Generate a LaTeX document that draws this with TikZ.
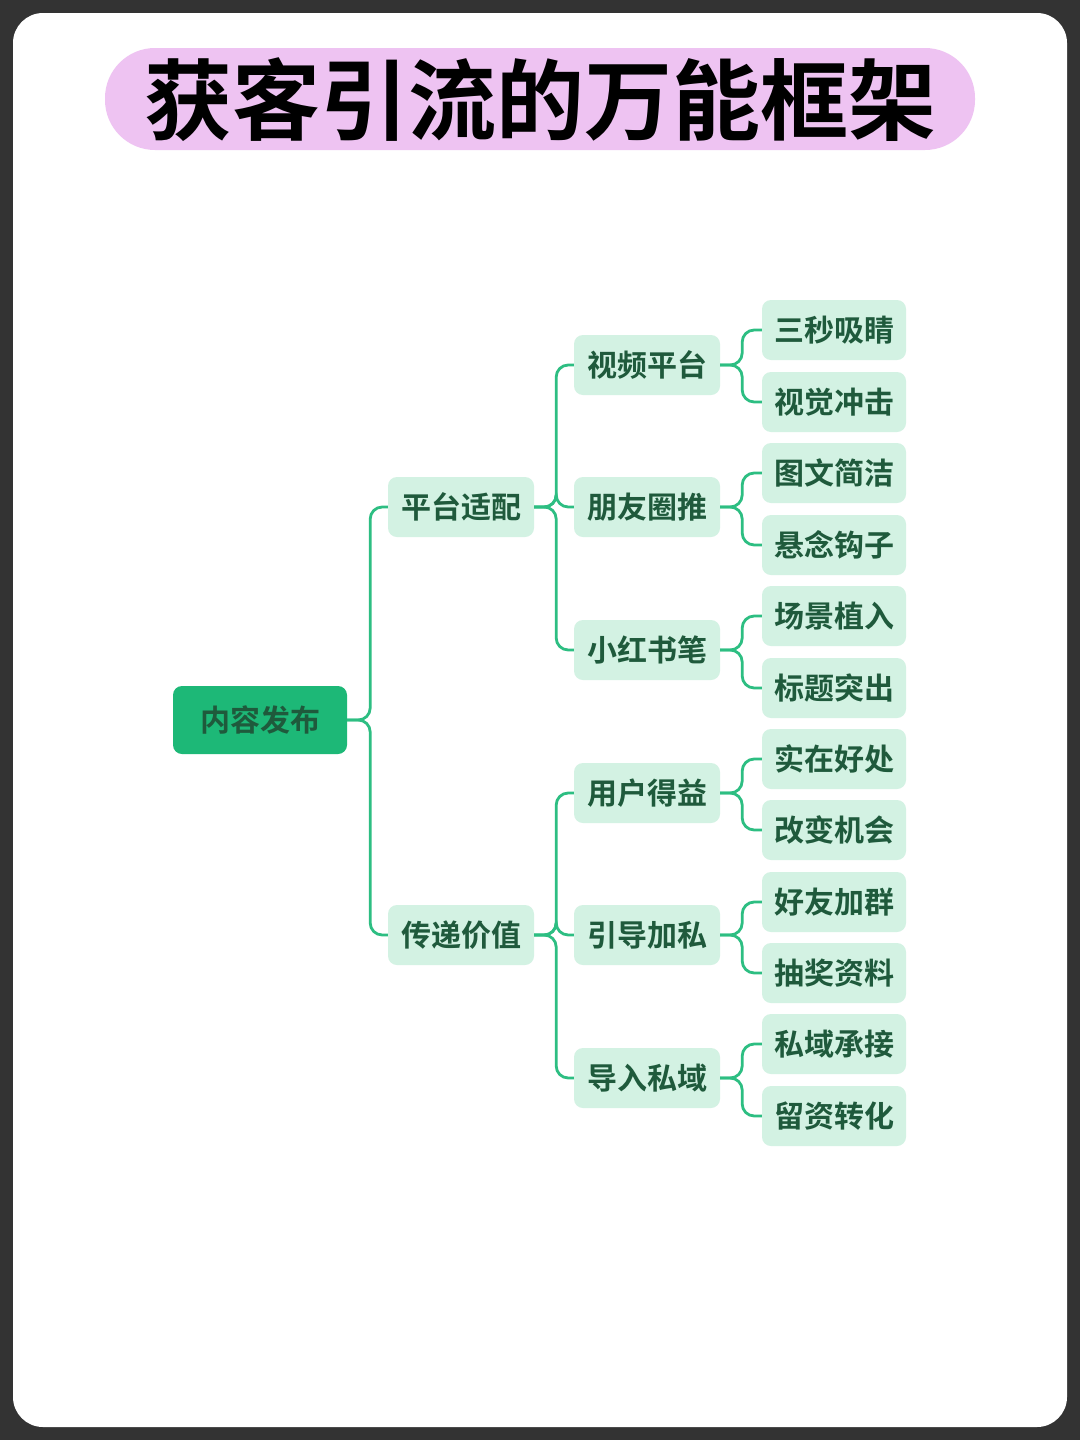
\documentclass[tikz,border=0pt]{standalone}
\usepackage{fontspec}
\setmainfont{Noto Sans CJK SC}
\newfontfamily\cjkb{Noto Sans CJK SC Bold}
\definecolor{ln}{HTML}{2DBE82}
\definecolor{mint}{HTML}{D3F2E3}
\definecolor{dg}{HTML}{1F5A3C}
\definecolor{rootg}{HTML}{1DB877}
\definecolor{pinkb}{HTML}{EEC3F2}
\definecolor{frame}{HTML}{333333}
\begin{document}
\begin{tikzpicture}[x=1pt,y=-1pt,
 bx/.style={fill=mint,rounded corners=9pt,minimum width=146pt,minimum height=60pt,inner sep=0pt,text=dg,font=\cjkb\fontsize{30}{30}\selectfont},
 rt/.style={fill=rootg,rounded corners=9pt,minimum width=174pt,minimum height=68pt,inner sep=0pt,text=dg,font=\cjkb\fontsize{30}{30}\selectfont},
 cn/.style={draw=ln,line width=2.8pt,rounded corners=12pt}]
\useasboundingbox (0,0) rectangle (1080,1440);
\fill[frame] (0,0) rectangle (1080,1440);
\fill[white,rounded corners=30pt] (13,13) rectangle (1067,1427);
\fill[pinkb,rounded corners=50pt] (105,48) rectangle (975,150);
\node[font=\cjkb\fontsize{88}{88}\selectfont] (title) at (540,100) {获客引流的万能框架};
\node[rt] (r) at (260,720) {内容发布};
\node[bx] (a) at (461,507) {平台适配};
\node[bx] (b) at (461,935) {传递价值};
\foreach \n/\t/\y in {a1/视频平台/365,a2/朋友圈推/507,a3/小红书笔/650,b1/用户得益/793,b2/引导加私/935,b3/导入私域/1078}
 \node[bx] (\n) at (647,\y) {\t};
\foreach \n/\t/\y in {l1/三秒吸睛/330,l2/视觉冲击/402,l3/图文简洁/473,l4/悬念钩子/545,l5/场景植入/616,l6/标题突出/688,l7/实在好处/759,l8/改变机会/830,l9/好友加群/902,l10/抽奖资料/973,l11/私域承接/1044,l12/留资转化/1116}
 \node[bx,minimum width=144pt] (\n) at (834,\y) {\t};
\foreach \p/\c in {r/a,r/b}
 \draw[cn] (\p.east) -- ++(23,0) |- (\c.west);
\foreach \p/\c in {a/a1,a/a2,a/a3,b/b1,b/b2,b/b3}
 \draw[cn] (\p.east) -- ++(22,0) |- (\c.west);
\foreach \p/\c in {a1/l1,a1/l2,a2/l3,a2/l4,a3/l5,a3/l6,b1/l7,b1/l8,b2/l9,b2/l10,b3/l11,b3/l12}
 \draw[cn] (\p.east) -- ++(22,0) |- (\c.west);
\end{tikzpicture}
\end{document}
